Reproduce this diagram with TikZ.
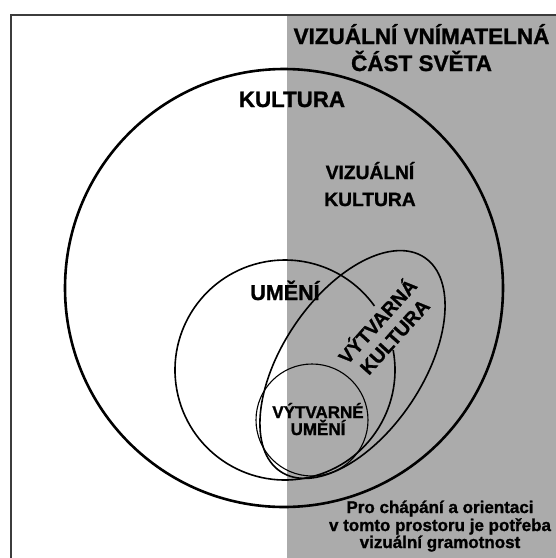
\documentclass[tikz,border=0pt]{standalone}
\usepackage{fontspec}
\setmainfont{Liberation Sans}[BoldFeatures={FakeBold=1.2}]
\definecolor{regiongray}{RGB}{171,171,171}
\definecolor{framec}{RGB}{60,60,60}
\begin{document}
\begin{tikzpicture}[x=1pt,y=-1pt,
  lbl/.style={inner sep=0pt,anchor=base,font=\bfseries},
  thick1/.style={line width=2.6pt},
  mid1/.style={line width=1.6pt},
  thin1/.style={line width=1.1pt}]
\useasboundingbox (0,0) rectangle (556,558);
% gray region
\fill[regiongray] (287,15) rectangle (556,558);
% frame
\draw[framec,line width=2pt] (11,558) -- (11,15) -- (556,15);
% coordinates
\coordinate (ck) at (284,288);
\coordinate (cu) at (285,370);
\coordinate (ce) at (352.5,364.5);
\coordinate (cv) at (312,420);
% KULTURA circle
\draw[thick1] (ck) circle[radius=219];
% UMENI circle with gap for rotated text
\draw[mid1] (cu) ++(-10.5:110) arc[start angle=-10.5,end angle=324.4,radius=110];
% VYTVARNA KULTURA ellipse
\draw[mid1,rotate around={56:(ce)}] (ce) ellipse[x radius=129,y radius=70];
% VYTVARNE UMENI circle
\draw[thin1] (cv) circle[radius=56];
% texts
\node[lbl,font=\bfseries\fontsize{22.5}{27}\selectfont] (t1) at (421.5,44) {VIZUÁLNÍ VNÍMATELNÁ};
\node[lbl,font=\bfseries\fontsize{22.5}{27}\selectfont] (t2) at (421.5,71) {ČÁST SVĚTA};
\node[lbl,font=\bfseries\fontsize{22.3}{27}\selectfont] (kul) at (292,107) {KULTURA};
\node[lbl,font=\bfseries\fontsize{19.2}{23}\selectfont] (vk1) at (370,179) {VIZUÁLNÍ};
\node[lbl,font=\bfseries\fontsize{19.2}{23}\selectfont] (vk2) at (370,206) {KULTURA};
\node[lbl,font=\bfseries\fontsize{21.5}{26}\selectfont] (um) at (285,300) {UMĚNÍ};
\node[lbl,font=\bfseries\fontsize{17}{20}\selectfont] (vu1) at (318,418) {VÝTVARNÉ};
\node[lbl,font=\bfseries\fontsize{17}{20}\selectfont] (vu2) at (318,435) {UMĚNÍ};
\node[inner sep=0pt,align=center,rotate=48,font=\bfseries\fontsize{19.5}{23}\selectfont] (vyk) at (385,328) {VÝTVARNÁ\\KULTURA};
\node[lbl,font=\bfseries\fontsize{17}{20}\selectfont] (b1) at (440,513) {Pro chápání a orientaci};
\node[lbl,font=\bfseries\fontsize{17}{20}\selectfont] (b2) at (440,531) {v tomto prostoru je potřeba};
\node[lbl,font=\bfseries\fontsize{17}{20}\selectfont] (b3) at (440,548) {vizuální gramotnost};
\end{tikzpicture}
\end{document}
